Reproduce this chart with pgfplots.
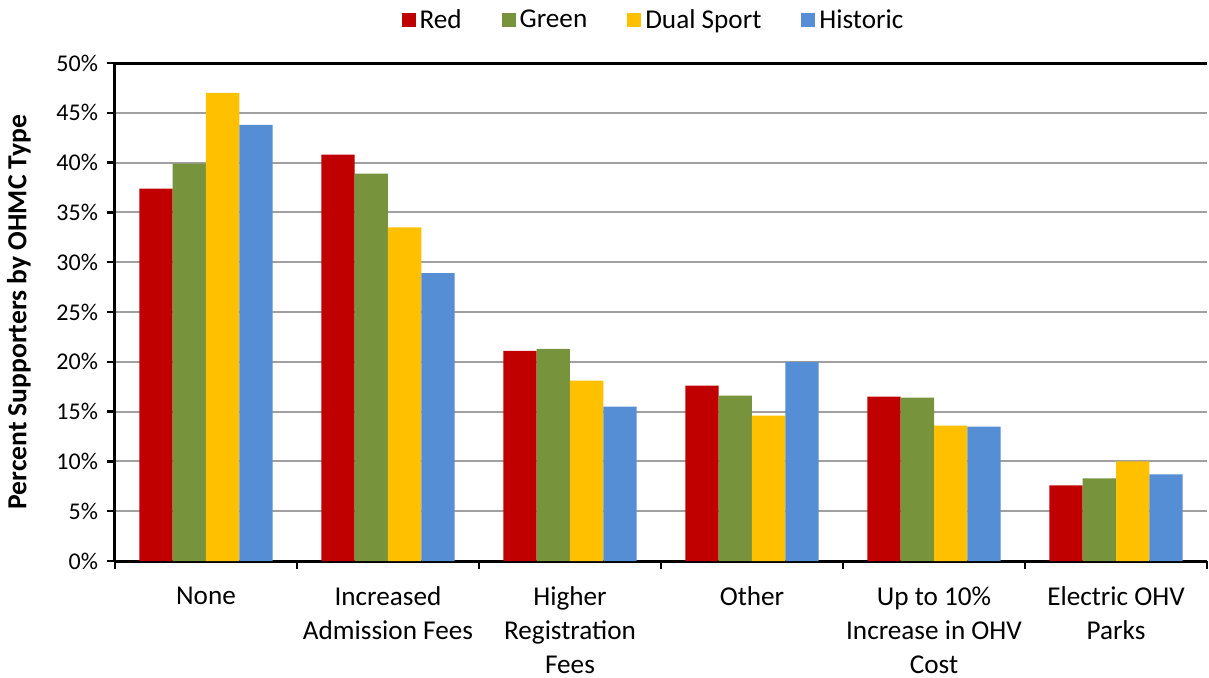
\documentclass[border=0pt]{standalone}
\usepackage{pgfplots}
\pgfplotsset{compat=1.18}
\usepackage{fontspec}
\setmainfont{Carlito}

\definecolor{cred}{HTML}{C00000}
\definecolor{cgreen}{HTML}{77933C}
\definecolor{cyellow}{HTML}{FFC000}
\definecolor{cblue}{HTML}{558ED5}
\definecolor{gridgray}{HTML}{A0A0A0}

\begin{document}
\begin{tikzpicture}
\path[use as bounding box] (-57.5pt,-58pt) rectangle (547pt,280.5pt);
\begin{axis}[
    scale only axis,
    width=546pt, height=249pt,
    ybar=0pt,
    bar width=0.183,
    xmin=-0.5, xmax=5.5,
    ymin=0, ymax=50,
    axis x line*=bottom,
    axis y line*=left,
    axis line style={line width=1.5pt, black},
    tick align=outside,
    major tick length=4pt,
    tick style={line width=1.2pt, black},
    ytick={0,5,...,50},
    yticklabels={0\%,5\%,10\%,15\%,20\%,25\%,30\%,35\%,40\%,45\%,50\%},
    yticklabel style={font=\fontsize{12}{14}\selectfont, xshift=-1pt},
    ymajorgrids=true,
    grid style={gridgray, line width=1pt},
    extra y ticks={50},
    extra y tick labels={},
    extra y tick style={grid=major, major grid style={black, line width=1.5pt}},
    xtick={-0.5,0.5,...,5.5},
    xticklabels={},
    extra x ticks={0,1,2,3,4,5},
    extra x tick labels={None,Increased\\Admission Fees,Higher\\Registration\\Fees,Other,Up to 10\%\\Increase in OHV\\Cost,Electric OHV\\Parks},
    extra x tick style={tick style={draw=none}},
    xticklabel style={align=center, anchor=north, font=\fontsize{13.6}{17}\selectfont, yshift=-5.5pt},
    ylabel={Percent Supporters by OHMC Type},
    ylabel style={at={(axis description cs:-0.088,0.5)}, anchor=center, font=\fontsize{13.8}{15}\selectfont\bfseries},
    legend columns=4,
    legend style={at={(0.494,1.086)}, anchor=center, draw=none, fill=none,
        font=\fontsize{13.6}{15}\selectfont,
        /tikz/every even column/.append style={column sep=18pt}},
    legend image code/.code={\fill[#1] (-2pt,-3.5pt) rectangle (5pt,3.5pt);},
]
\addplot[fill=cred, draw=none] coordinates {(0,37.4) (1,40.8) (2,21.1) (3,17.6) (4,16.5) (5,7.6)};
\addplot[fill=cgreen, draw=none] coordinates {(0,39.9) (1,38.9) (2,21.3) (3,16.6) (4,16.4) (5,8.3)};
\addplot[fill=cyellow, draw=none] coordinates {(0,47.0) (1,33.5) (2,18.1) (3,14.6) (4,13.6) (5,10.0)};
\addplot[fill=cblue, draw=none] coordinates {(0,43.8) (1,28.9) (2,15.5) (3,20.0) (4,13.5) (5,8.7)};
\legend{Red,Green,Dual Sport,Historic}
\end{axis}
\end{tikzpicture}
\end{document}
